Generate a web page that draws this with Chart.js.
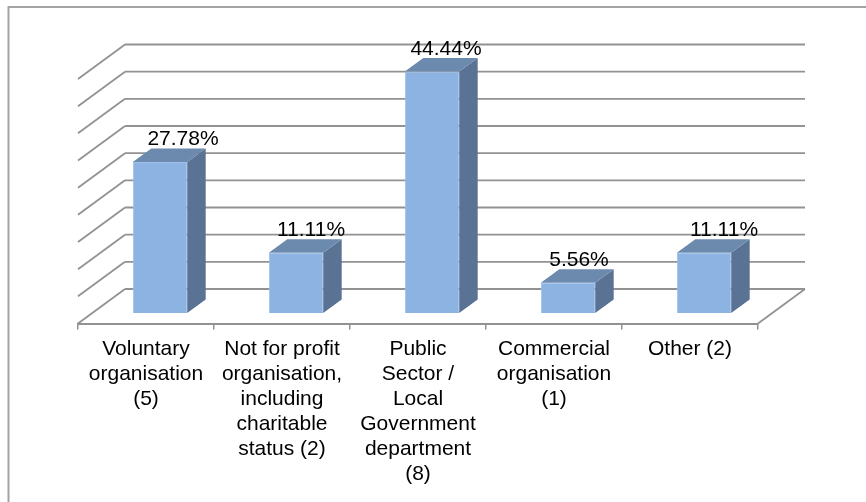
<!DOCTYPE html>
<html>
<head>
<meta charset="utf-8">
<style>
  html, body { margin: 0; padding: 0; background: #fff; }
  canvas { display: block; }
</style>
<script src="https://cdn.jsdelivr.net/npm/chart.js@4"></script>
</head>
<body>
<canvas id="grafico" width="866" height="502"></canvas>
<script>
const categorias = [
    ['Voluntary', 'organisation', '(5)'],
    ['Not for profit', 'organisation,', 'including', 'charitable', 'status (2)'],
    ['Public', 'Sector /', 'Local', 'Government', 'department', '(8)'],
    ['Commercial', 'organisation', '(1)'],
    ['Other (2)']
];
const valores = [27.78, 11.11, 44.44, 5.56, 11.11];
const etiquetas = ['27.78%', '11.11%', '44.44%', '5.56%', '11.11%'];
const marcasY = [0, 5, 10, 15, 20, 25, 30, 35, 40, 45];

// how the fake 3D is set up, in pixels
const fondo = { dx: 47, dy: 34.5 };
const plano = { dx: 14, dy: 10.5 };
const prof = { dx: 18.5, dy: 13.5 };
const ajusteEtiqueta = [23, 15, 14, 11, 20];

const GRIS = '#929292';

function linea(ctx, x1, y1, x2, y2) {
    ctx.beginPath();
    ctx.moveTo(x1, y1);
    ctx.lineTo(x2, y2);
    ctx.stroke();
}

function cara(ctx, puntos, color) {
    ctx.fillStyle = color;
    ctx.beginPath();
    puntos.forEach((p, i) => i ? ctx.lineTo(p[0], p[1]) : ctx.moveTo(p[0], p[1]));
    ctx.closePath();
    ctx.fill();
}

const efecto3d = {
    id: 'efecto3d',
    beforeDraw(chart) {
        // marco exterior, solo arriba e izquierda entran en la imagen
        const ctx = chart.ctx;
        ctx.save();
        ctx.strokeStyle = '#a3a3a3';
        ctx.lineWidth = 2;
        ctx.beginPath();
        ctx.moveTo(8.5, chart.height);
        ctx.lineTo(8.5, 7);
        ctx.lineTo(chart.width, 7);
        ctx.stroke();
        ctx.restore();
    },
    beforeDatasetsDraw(chart) {
        const ctx = chart.ctx;
        const area = chart.chartArea;
        const y = chart.scales.y;
        ctx.save();
        ctx.strokeStyle = GRIS;
        ctx.lineWidth = 1.8;
        marcasY.forEach(v => {
            const py = y.getPixelForValue(v);
            linea(ctx, area.left, py, area.left + fondo.dx, py - fondo.dy);
            linea(ctx, area.left + fondo.dx, py - fondo.dy, area.right + fondo.dx, py - fondo.dy);
        });
        linea(ctx, area.right, y.getPixelForValue(0), area.right + fondo.dx, y.getPixelForValue(0) - fondo.dy);

        // lados y tapas de las barras
        chart.getDatasetMeta(0).data.forEach(b => {
            const r = b.x + b.width / 2 + plano.dx;
            const l = b.x - b.width / 2 + plano.dx;
            const t = b.y - plano.dy;
            const u = b.base - plano.dy;
            cara(ctx, [[r, t], [r + prof.dx, t - prof.dy], [r + prof.dx, u - prof.dy], [r, u]], '#5a7394');
            cara(ctx, [[l, t], [l + prof.dx, t - prof.dy], [r + prof.dx, t - prof.dy], [r, t]], '#6c89ae');
        });
        ctx.restore();
    },
    beforeDatasetDraw(chart) {
        chart.ctx.save();
        chart.ctx.translate(plano.dx, -plano.dy);
    },
    afterDatasetDraw(chart) {
        chart.ctx.restore();
    },
    afterDatasetsDraw(chart) {
        const ctx = chart.ctx;
        ctx.save();
        ctx.fillStyle = '#000';
        ctx.font = '21px "Liberation Sans"';
        ctx.textAlign = 'center';
        ctx.textBaseline = 'alphabetic';
        chart.getDatasetMeta(0).data.forEach((b, i) => {
            ctx.fillText(etiquetas[i], b.x + plano.dx + ajusteEtiqueta[i], b.y - plano.dy - 17);
        });
        ctx.restore();
    }
};

new Chart(document.getElementById('grafico'), {
    type: 'bar',
    data: {
        labels: categorias,
        datasets: [{
            data: valores,
            backgroundColor: '#8db3e2',
            borderColor: '#9dbfe8',
            borderWidth: 1,
            barPercentage: 0.4,
            categoryPercentage: 1
        }]
    },
    plugins: [efecto3d],
    options: {
        responsive: false,
        animation: false,
        layout: { padding: { left: 78, right: 108, top: 79, bottom: 8.5 } },
        plugins: { legend: { display: false }, tooltip: { enabled: false } },
        scales: {
            x: {
                afterFit(eje) { eje.height = 170; },
                border: { color: GRIS, width: 2 },
                grid: { drawOnChartArea: false, color: GRIS, tickColor: GRIS, tickLength: 6, lineWidth: 1.5 },
                ticks: {
                    color: '#000',
                    autoSkip: false,
                    maxRotation: 0,
                    padding: 7,
                    font: { family: '"Liberation Sans"', size: 21, lineHeight: 1.19 }
                }
            },
            y: {
                display: false,
                min: 0,
                max: 45,
                ticks: { stepSize: 5 }
            }
        }
    }
});
</script>
</body>
</html>
